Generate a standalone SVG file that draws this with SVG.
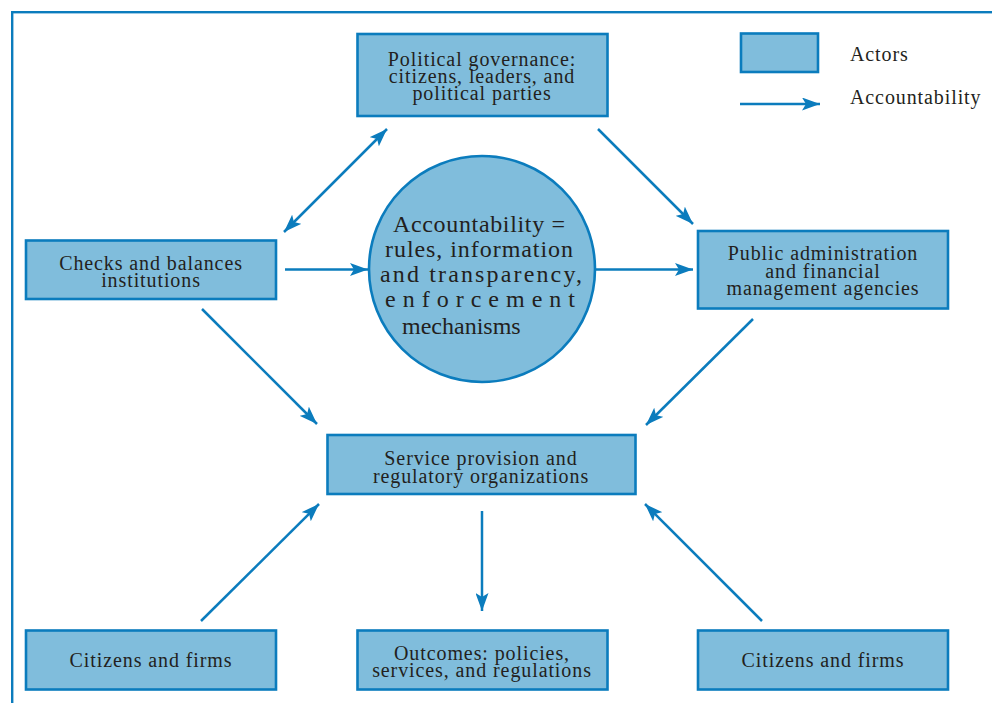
<svg xmlns="http://www.w3.org/2000/svg" width="992" height="703" viewBox="0 0 992 703">
  <style>
    .box { fill: #80bddc; stroke: #0b7cbd; stroke-width: 2.6; }
    .lbl { font-family: "Liberation Serif", "Times New Roman", serif; font-size: 20px; fill: #231f20; text-anchor: middle; letter-spacing: 0.9px; }
    .leg { font-family: "Liberation Serif", "Times New Roman", serif; font-size: 20px; fill: #231f20; letter-spacing: 0.9px; }
    .big { font-family: "Liberation Serif", "Times New Roman", serif; font-size: 24px; fill: #231f20; }
    .conn line { stroke: #0b7cbd; stroke-width: 2.5; marker-end: url(#head); }
  </style>
  <defs>
    <marker id="head" markerUnits="userSpaceOnUse" markerWidth="18" markerHeight="13" refX="18" refY="6.5" orient="auto-start-reverse">
      <path d="M0,0 L18,6.5 L0,13 L4,6.5 Z" fill="#0b7cbd"/>
    </marker>
  </defs>

  <rect width="992" height="703" fill="#ffffff"/>
  <!-- outer frame (runs past the right and bottom edges) -->
  <rect x="12.2" y="12.2" width="1000" height="720" fill="none" stroke="#0b7cbd" stroke-width="2.4"/>

  <!-- legend -->
  <g id="legend">
    <rect class="box" x="741" y="33.5" width="77" height="38.5"/>
    <text class="leg" x="850" y="61">Actors</text>
    <line x1="740" y1="104" x2="820" y2="104" stroke="#0b7cbd" stroke-width="2.5" marker-end="url(#head)"/>
    <text class="leg" x="850" y="104">Accountability</text>
  </g>

  <g id="political">
    <rect class="box" x="357.5" y="34" width="250" height="82"/>
    <text class="lbl" x="482" y="66">Political governance:</text>
    <text class="lbl" x="482" y="83">citizens, leaders, and</text>
    <text class="lbl" x="482" y="100">political parties</text>
  </g>

  <g id="checks">
    <rect class="box" x="26" y="240.5" width="250" height="58.5"/>
    <text class="lbl" x="151" y="270">Checks and balances</text>
    <text class="lbl" x="151" y="286.5">institutions</text>
  </g>

  <g id="accountability">
    <circle cx="482" cy="269" r="113" fill="#80bddc" stroke="#0b7cbd" stroke-width="2.6"/>
    <text class="big" x="393" y="232" textLength="172" lengthAdjust="spacing">Accountability =</text>
    <text class="big" x="385" y="257" textLength="188" lengthAdjust="spacing">rules, information</text>
    <text class="big" x="380" y="282" textLength="202" lengthAdjust="spacing">and transparency,</text>
    <text class="big" x="385" y="307" textLength="190" lengthAdjust="spacing">enforcement</text>
    <text class="big" x="402" y="334">mechanisms</text>
  </g>

  <g id="public-admin">
    <rect class="box" x="698" y="231" width="250" height="77.5"/>
    <text class="lbl" x="823" y="260">Public administration</text>
    <text class="lbl" x="823" y="277.5">and financial</text>
    <text class="lbl" x="823" y="295">management agencies</text>
  </g>

  <g id="service">
    <rect class="box" x="327.5" y="435" width="308" height="59"/>
    <text class="lbl" x="481" y="465">Service provision and</text>
    <text class="lbl" x="481" y="482.5">regulatory organizations</text>
  </g>

  <g id="citizens-left">
    <rect class="box" x="26" y="630.5" width="250" height="59"/>
    <text class="lbl" x="151" y="667">Citizens and firms</text>
  </g>

  <g id="outcomes">
    <rect class="box" x="357.5" y="630.5" width="250" height="59"/>
    <text class="lbl" x="482" y="660">Outcomes: policies,</text>
    <text class="lbl" x="482" y="676.5">services, and regulations</text>
  </g>

  <g id="citizens-right">
    <rect class="box" x="698" y="630.5" width="250" height="59"/>
    <text class="lbl" x="823" y="667">Citizens and firms</text>
  </g>

  <g id="connectors" class="conn">
    <line x1="284" y1="232" x2="387" y2="129" marker-start="url(#head)"/>
    <line x1="598" y1="129" x2="693" y2="224"/>
    <line x1="285" y1="269.5" x2="368" y2="269.5"/>
    <line x1="596" y1="269.5" x2="693" y2="269.5"/>
    <line x1="202" y1="309" x2="317" y2="424"/>
    <line x1="753" y1="319" x2="646" y2="425"/>
    <line x1="482" y1="511" x2="482" y2="611"/>
    <line x1="201" y1="621" x2="319" y2="504"/>
    <line x1="762" y1="621" x2="645" y2="504"/>
  </g>
</svg>
